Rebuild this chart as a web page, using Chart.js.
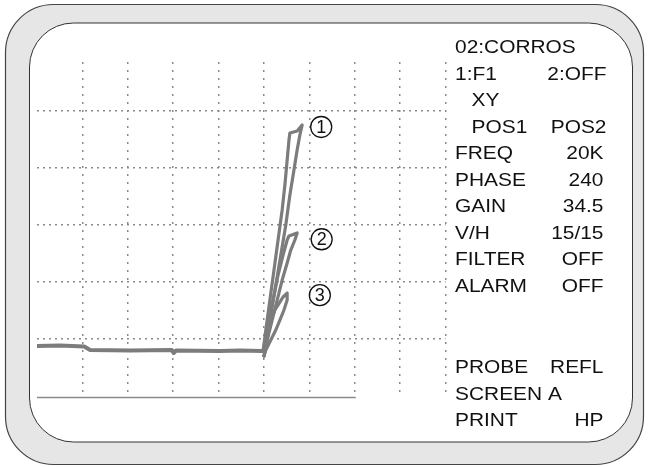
<!DOCTYPE html>
<html>
<head>
<meta charset="utf-8">
<script src="https://cdn.jsdelivr.net/npm/chart.js@4/dist/chart.umd.min.js"></script>
<style>
  html, body { margin: 0; padding: 0; background: #ffffff; }
  canvas { display: block; }
</style>
</head>
<body>
<canvas id="scope" width="648" height="467"></canvas>
<script>
// Screen divisions: x in horizontal divisions, y in vertical divisions.
const baselineX = [0, 0.51, 1.04, 1.17, 2.05, 2.97, 3.01, 3.06, 4.03, 4.47, 4.96];
const baselineY = [0.877, 0.886, 0.868, 0.807, 0.798, 0.807, 0.754, 0.798, 0.789, 0.798, 0.789];

const loop1X = [4.98, 5.04, 5.13, 5.22, 5.31, 5.40, 5.46, 5.51, 5.55, 5.57, 5.73, 5.84, 5.79, 5.73, 5.66, 5.57, 5.48, 5.37, 5.26, 5.15, 5.07, 5.00];
const loop1Y = [0.789, 1.158, 1.684, 2.211, 2.737, 3.263, 3.702, 4.140, 4.491, 4.614, 4.649, 4.754, 4.579, 4.316, 3.965, 3.526, 3.000, 2.474, 1.947, 1.421, 0.982, 0.702];

const loop2X = [4.98, 5.09, 5.20, 5.31, 5.42, 5.51, 5.55, 5.73, 5.68, 5.59, 5.51, 5.40, 5.29, 5.18, 5.07, 5.00];
const loop2Y = [0.789, 1.246, 1.684, 2.123, 2.474, 2.737, 2.807, 2.860, 2.737, 2.561, 2.333, 2.035, 1.684, 1.333, 0.982, 0.702];

const loop3X = [4.98, 5.07, 5.15, 5.24, 5.35, 5.42, 5.51, 5.51, 5.44, 5.35, 5.26, 5.15, 5.04, 5.00];
const loop3Y = [0.789, 1.070, 1.333, 1.509, 1.649, 1.737, 1.807, 1.684, 1.509, 1.333, 1.158, 0.982, 0.807, 0.702];

const floorX = [0, 7];
const floorY = [-0.035, -0.035];

// Circled markers next to each loop tip
const markerText = ['1', '2', '3'];
const markerX = [6.26, 6.27, 6.23];
const markerY = [4.72, 2.75, 1.77];

// Instrument settings panel
const panelLeft = ['02:CORROS', '1:F1', 'XY', 'POS1', 'FREQ', 'PHASE', 'GAIN', 'V/H', 'FILTER', 'ALARM', 'PROBE', 'SCREEN A', 'PRINT'];
const panelRight = ['', '2:OFF', '', 'POS2', '20K', '240', '34.5', '15/15', 'OFF', 'OFF', 'REFL', '', 'HP'];

const pts = (xs, ys) => xs.map((x, i) => ({ x: x, y: ys[i] }));
const TRACE = '#7c7c7c';
const GRID = '#8a8a8a';

function roundRect(ctx, x, y, w, h, r) {
  ctx.beginPath();
  ctx.moveTo(x + r, y);
  ctx.lineTo(x + w - r, y);
  ctx.arcTo(x + w, y, x + w, y + r, r);
  ctx.lineTo(x + w, y + h - r);
  ctx.arcTo(x + w, y + h, x + w - r, y + h, r);
  ctx.lineTo(x + r, y + h);
  ctx.arcTo(x, y + h, x, y + h - r, r);
  ctx.lineTo(x, y + r);
  ctx.arcTo(x, y, x + r, y, r);
  ctx.closePath();
}

function stretchedText(ctx, text, x, y, align) {
  const sx = 1.13;
  ctx.save();
  ctx.translate(x, y);
  ctx.scale(sx, 1);
  ctx.textAlign = align;
  ctx.fillText(text, 0, 0);
  ctx.restore();
}

const bezel = {
  id: 'bezel',
  beforeDraw(chart) {
    const ctx = chart.ctx;
    ctx.save();
    roundRect(ctx, 5.5, 4.5, 638, 460, 48);
    ctx.fillStyle = '#e6e6e6';
    ctx.fill();
    ctx.strokeStyle = '#444444';
    ctx.lineWidth = 1.2;
    ctx.stroke();
    roundRect(ctx, 29.5, 23, 603, 419, 44);
    ctx.fillStyle = '#ffffff';
    ctx.fill();
    ctx.strokeStyle = '#333333';
    ctx.lineWidth = 1;
    ctx.stroke();
    ctx.restore();
  },
  afterDraw(chart) {
    const ctx = chart.ctx;
    const xs = chart.scales.x, ys = chart.scales.y;
    ctx.save();
    // circled loop markers
    markerText.forEach((t, i) => {
      const px = xs.getPixelForValue(markerX[i]);
      const py = ys.getPixelForValue(markerY[i]);
      ctx.beginPath();
      ctx.arc(px, py, 10.5, 0, Math.PI * 2);
      ctx.strokeStyle = '#111111';
      ctx.lineWidth = 1.3;
      ctx.stroke();
      ctx.fillStyle = '#111111';
      ctx.font = '18px "Liberation Sans", Arial, sans-serif';
      ctx.textAlign = 'center';
      ctx.textBaseline = 'middle';
      ctx.fillText(t, px, py + 1);
    });
    // settings panel
    ctx.fillStyle = '#111111';
    ctx.font = '18.5px "Liberation Sans", Arial, sans-serif';
    ctx.textBaseline = 'alphabetic';
    const rowY = [53.3, 79.8, 106.3, 132.8, 159.3, 185.8, 212.3, 238.8, 265.3, 291.8, 373, 399.5, 426];
    panelLeft.forEach((t, i) => {
      const lx = (t === 'XY' || t === 'POS1') ? 471.5 : 455;
      stretchedText(ctx, t, lx, rowY[i], 'left');
      if (panelRight[i]) {
        const rx = (i === 1 || i === 3) ? 606.5 : 603.5;
        stretchedText(ctx, panelRight[i], rx, rowY[i], 'right');
      }
    });
    ctx.restore();
  }
};

new Chart(document.getElementById('scope'), {
  type: 'line',
  data: {
    datasets: [
      { data: pts(floorX, floorY), borderColor: '#8a8a8a', borderWidth: 2.5 },
      { data: pts(baselineX, baselineY), borderColor: TRACE, borderWidth: 4 },
      { data: pts(loop1X, loop1Y), borderColor: TRACE, borderWidth: 3.2 },
      { data: pts(loop2X, loop2Y), borderColor: TRACE, borderWidth: 3.2 },
      { data: pts(loop3X, loop3Y), borderColor: TRACE, borderWidth: 3.2 }
    ]
  },
  options: {
    responsive: false,
    animation: false,
    devicePixelRatio: 1,
    layout: { padding: { left: 37, right: 202.4, top: 62, bottom: 68.7 } },
    elements: {
      point: { radius: 0, hoverRadius: 0 },
      line: { tension: 0, fill: false, borderJoinStyle: 'round', borderCapStyle: 'round' }
    },
    plugins: { legend: { display: false }, tooltip: { enabled: false } },
    events: [],
    scales: {
      x: {
        type: 'linear', min: 0, max: 9,
        ticks: { display: false, stepSize: 1 },
        // dotted vertical grid lines
        border: { display: false, dash: [2, 6] },
        grid: {
          drawTicks: false,
          color: (c) => (c.tick && c.tick.value === 0) ? 'rgba(0,0,0,0)' : GRID,
          lineWidth: 1.5
        },
        afterBuildTicks: (s) => { s.ticks = [0,1,2,3,4,5,6,7,8,9].map(v => ({ value: v })); }
      },
      y: {
        type: 'linear', min: -0.04, max: 5.86,
        ticks: { display: false },
        // dotted horizontal grid lines
        border: { display: false, dash: [2, 4] },
        grid: { drawTicks: false, color: GRID, lineWidth: 1.5 },
        afterBuildTicks: (s) => { s.ticks = [1,2,3,4,5].map(v => ({ value: v })); }
      }
    }
  },
  plugins: [bezel]
});
</script>
</body>
</html>
